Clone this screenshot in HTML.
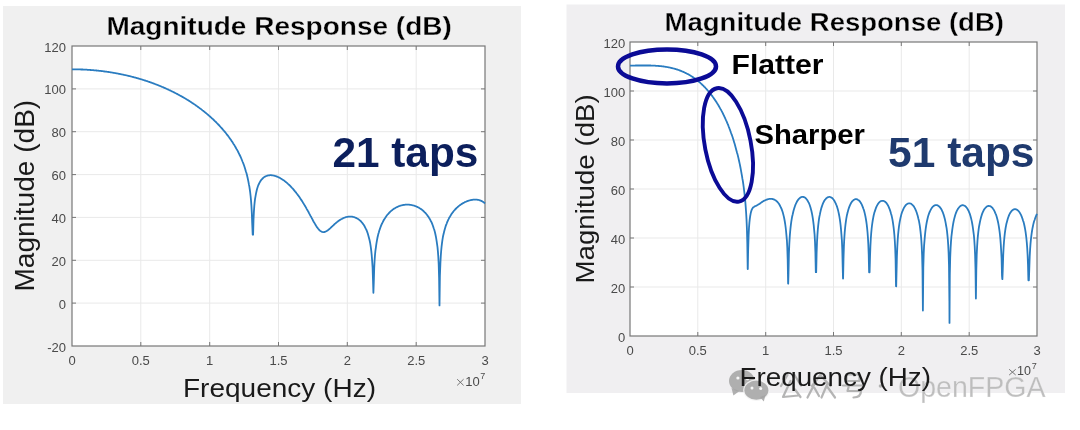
<!DOCTYPE html>
<html><head><meta charset="utf-8"><style>
html,body{margin:0;padding:0;background:#fff;width:1080px;height:430px;overflow:hidden}
svg{display:block;font-family:"Liberation Sans",sans-serif;will-change:transform}
</style></head><body>
<svg width="1080" height="430" viewBox="0 0 1080 430">
<rect x="3" y="6" width="518" height="398" fill="#f0f0f0"/>
<rect x="566.5" y="4.5" width="498.5" height="388.5" fill="#f0eff1"/>
<rect x="72" y="46" width="413" height="300" fill="#fff"/><line x1="140.8" y1="46" x2="140.8" y2="346" stroke="#e9e9e9" stroke-width="1"/><line x1="209.7" y1="46" x2="209.7" y2="346" stroke="#e9e9e9" stroke-width="1"/><line x1="278.5" y1="46" x2="278.5" y2="346" stroke="#e9e9e9" stroke-width="1"/><line x1="347.3" y1="46" x2="347.3" y2="346" stroke="#e9e9e9" stroke-width="1"/><line x1="416.2" y1="46" x2="416.2" y2="346" stroke="#e9e9e9" stroke-width="1"/><line x1="72" y1="303.1" x2="485" y2="303.1" stroke="#e9e9e9" stroke-width="1"/><line x1="72" y1="260.3" x2="485" y2="260.3" stroke="#e9e9e9" stroke-width="1"/><line x1="72" y1="217.4" x2="485" y2="217.4" stroke="#e9e9e9" stroke-width="1"/><line x1="72" y1="174.6" x2="485" y2="174.6" stroke="#e9e9e9" stroke-width="1"/><line x1="72" y1="131.7" x2="485" y2="131.7" stroke="#e9e9e9" stroke-width="1"/><line x1="72" y1="88.9" x2="485" y2="88.9" stroke="#e9e9e9" stroke-width="1"/><line x1="140.8" y1="346" x2="140.8" y2="342" stroke="#777777" stroke-width="1"/><line x1="140.8" y1="46" x2="140.8" y2="50" stroke="#777777" stroke-width="1"/><line x1="209.7" y1="346" x2="209.7" y2="342" stroke="#777777" stroke-width="1"/><line x1="209.7" y1="46" x2="209.7" y2="50" stroke="#777777" stroke-width="1"/><line x1="278.5" y1="346" x2="278.5" y2="342" stroke="#777777" stroke-width="1"/><line x1="278.5" y1="46" x2="278.5" y2="50" stroke="#777777" stroke-width="1"/><line x1="347.3" y1="346" x2="347.3" y2="342" stroke="#777777" stroke-width="1"/><line x1="347.3" y1="46" x2="347.3" y2="50" stroke="#777777" stroke-width="1"/><line x1="416.2" y1="346" x2="416.2" y2="342" stroke="#777777" stroke-width="1"/><line x1="416.2" y1="46" x2="416.2" y2="50" stroke="#777777" stroke-width="1"/><line x1="72" y1="303.1" x2="76" y2="303.1" stroke="#777777" stroke-width="1"/><line x1="485" y1="303.1" x2="481" y2="303.1" stroke="#777777" stroke-width="1"/><line x1="72" y1="260.3" x2="76" y2="260.3" stroke="#777777" stroke-width="1"/><line x1="485" y1="260.3" x2="481" y2="260.3" stroke="#777777" stroke-width="1"/><line x1="72" y1="217.4" x2="76" y2="217.4" stroke="#777777" stroke-width="1"/><line x1="485" y1="217.4" x2="481" y2="217.4" stroke="#777777" stroke-width="1"/><line x1="72" y1="174.6" x2="76" y2="174.6" stroke="#777777" stroke-width="1"/><line x1="485" y1="174.6" x2="481" y2="174.6" stroke="#777777" stroke-width="1"/><line x1="72" y1="131.7" x2="76" y2="131.7" stroke="#777777" stroke-width="1"/><line x1="485" y1="131.7" x2="481" y2="131.7" stroke="#777777" stroke-width="1"/><line x1="72" y1="88.9" x2="76" y2="88.9" stroke="#777777" stroke-width="1"/><line x1="485" y1="88.9" x2="481" y2="88.9" stroke="#777777" stroke-width="1"/><rect x="72" y="46" width="413" height="300" fill="none" stroke="#777777" stroke-width="1.2"/>
<path d="M72.0 69.3L72.4 69.3L72.8 69.3L73.2 69.3L73.7 69.3L74.1 69.3L74.5 69.3L74.9 69.3L75.3 69.3L75.7 69.3L76.1 69.3L76.5 69.3L77.0 69.4L77.4 69.4L77.8 69.4L78.2 69.4L78.6 69.4L79.0 69.4L79.4 69.4L79.9 69.4L80.3 69.4L80.7 69.5L81.1 69.5L81.5 69.5L81.9 69.5L82.3 69.5L82.7 69.5L83.2 69.6L83.6 69.6L84.0 69.6L84.4 69.6L84.8 69.6L85.2 69.7L85.6 69.7L86.1 69.7L86.5 69.7L86.9 69.7L87.3 69.8L87.7 69.8L88.1 69.8L88.5 69.9L88.9 69.9L89.4 69.9L89.8 69.9L90.2 70.0L90.6 70.0L91.0 70.0L91.4 70.1L91.8 70.1L92.3 70.1L92.7 70.2L93.1 70.2L93.5 70.2L93.9 70.3L94.3 70.3L94.7 70.3L95.2 70.4L95.6 70.4L96.0 70.5L96.4 70.5L96.8 70.5L97.2 70.6L97.6 70.6L98.0 70.7L98.5 70.7L98.9 70.8L99.3 70.8L99.7 70.9L100.1 70.9L100.5 70.9L100.9 71.0L101.4 71.0L101.8 71.1L102.2 71.1L102.6 71.2L103.0 71.2L103.4 71.3L103.8 71.4L104.2 71.4L104.7 71.5L105.1 71.5L105.5 71.6L105.9 71.6L106.3 71.7L106.7 71.7L107.1 71.8L107.6 71.9L108.0 71.9L108.4 72.0L108.8 72.0L109.2 72.1L109.6 72.2L110.0 72.2L110.4 72.3L110.9 72.4L111.3 72.4L111.7 72.5L112.1 72.6L112.5 72.6L112.9 72.7L113.3 72.8L113.8 72.8L114.2 72.9L114.6 73.0L115.0 73.1L115.4 73.1L115.8 73.2L116.2 73.3L116.6 73.4L117.1 73.4L117.5 73.5L117.9 73.6L118.3 73.7L118.7 73.8L119.1 73.8L119.5 73.9L120.0 74.0L120.4 74.1L120.8 74.2L121.2 74.3L121.6 74.3L122.0 74.4L122.4 74.5L122.8 74.6L123.3 74.7L123.7 74.8L124.1 74.9L124.5 75.0L124.9 75.1L125.3 75.1L125.7 75.2L126.2 75.3L126.6 75.4L127.0 75.5L127.4 75.6L127.8 75.7L128.2 75.8L128.6 75.9L129.1 76.0L129.5 76.1L129.9 76.2L130.3 76.3L130.7 76.4L131.1 76.5L131.5 76.6L131.9 76.7L132.4 76.8L132.8 76.9L133.2 77.1L133.6 77.2L134.0 77.3L134.4 77.4L134.8 77.5L135.3 77.6L135.7 77.7L136.1 77.8L136.5 77.9L136.9 78.1L137.3 78.2L137.7 78.3L138.1 78.4L138.6 78.5L139.0 78.7L139.4 78.8L139.8 78.9L140.2 79.0L140.6 79.1L141.0 79.3L141.5 79.4L141.9 79.5L142.3 79.6L142.7 79.8L143.1 79.9L143.5 80.0L143.9 80.2L144.3 80.3L144.8 80.4L145.2 80.6L145.6 80.7L146.0 80.8L146.4 81.0L146.8 81.1L147.2 81.2L147.7 81.4L148.1 81.5L148.5 81.7L148.9 81.8L149.3 81.9L149.7 82.1L150.1 82.2L150.5 82.4L151.0 82.5L151.4 82.7L151.8 82.8L152.2 83.0L152.6 83.1L153.0 83.3L153.4 83.4L153.9 83.6L154.3 83.7L154.7 83.9L155.1 84.0L155.5 84.2L155.9 84.4L156.3 84.5L156.7 84.7L157.2 84.8L157.6 85.0L158.0 85.2L158.4 85.3L158.8 85.5L159.2 85.7L159.6 85.8L160.1 86.0L160.5 86.2L160.9 86.3L161.3 86.5L161.7 86.7L162.1 86.9L162.5 87.0L163.0 87.2L163.4 87.4L163.8 87.6L164.2 87.8L164.6 87.9L165.0 88.1L165.4 88.3L165.8 88.5L166.3 88.7L166.7 88.9L167.1 89.0L167.5 89.2L167.9 89.4L168.3 89.6L168.7 89.8L169.2 90.0L169.6 90.2L170.0 90.4L170.4 90.6L170.8 90.8L171.2 91.0L171.6 91.2L172.0 91.4L172.5 91.6L172.9 91.8L173.3 92.0L173.7 92.2L174.1 92.4L174.5 92.6L174.9 92.8L175.4 93.0L175.8 93.3L176.2 93.5L176.6 93.7L177.0 93.9L177.4 94.1L177.8 94.3L178.2 94.6L178.7 94.8L179.1 95.0L179.5 95.2L179.9 95.5L180.3 95.7L180.7 95.9L181.1 96.2L181.6 96.4L182.0 96.6L182.4 96.9L182.8 97.1L183.2 97.3L183.6 97.6L184.0 97.8L184.4 98.0L184.9 98.3L185.3 98.5L185.7 98.8L186.1 99.0L186.5 99.3L186.9 99.5L187.3 99.8L187.8 100.0L188.2 100.3L188.6 100.6L189.0 100.8L189.4 101.1L189.8 101.3L190.2 101.6L190.6 101.9L191.1 102.1L191.5 102.4L191.9 102.7L192.3 103.0L192.7 103.2L193.1 103.5L193.5 103.8L194.0 104.1L194.4 104.3L194.8 104.6L195.2 104.9L195.6 105.2L196.0 105.5L196.4 105.8L196.9 106.1L197.3 106.4L197.7 106.7L198.1 107.0L198.5 107.3L198.9 107.6L199.3 107.9L199.7 108.2L200.2 108.5L200.6 108.8L201.0 109.1L201.4 109.4L201.8 109.7L202.2 110.1L202.6 110.4L203.1 110.7L203.5 111.0L203.9 111.4L204.3 111.7L204.7 112.0L205.1 112.4L205.5 112.7L205.9 113.0L206.4 113.4L206.8 113.7L207.2 114.1L207.6 114.4L208.0 114.8L208.4 115.1L208.8 115.5L209.3 115.9L209.7 116.2L210.1 116.6L210.5 117.0L210.9 117.3L211.3 117.7L211.7 118.1L212.1 118.5L212.6 118.8L213.0 119.2L213.4 119.6L213.8 120.0L214.2 120.4L214.6 120.8L215.0 121.2L215.5 121.6L215.9 122.0L216.3 122.4L216.7 122.8L217.1 123.3L217.5 123.7L217.9 124.1L218.3 124.5L218.8 125.0L219.2 125.4L219.6 125.9L220.0 126.3L220.4 126.8L220.8 127.2L221.2 127.7L221.7 128.1L222.1 128.6L222.5 129.1L222.9 129.6L223.3 130.0L223.7 130.5L224.1 131.0L224.5 131.5L225.0 132.0L225.4 132.5L225.8 133.0L226.2 133.5L226.6 134.1L227.0 134.6L227.4 135.1L227.9 135.7L228.3 136.2L228.7 136.8L229.1 137.3L229.5 137.9L229.9 138.5L230.3 139.1L230.8 139.7L231.2 140.3L231.6 140.9L232.0 141.5L232.4 142.1L232.8 142.7L233.2 143.4L233.6 144.0L234.1 144.7L234.5 145.4L234.9 146.1L235.3 146.8L235.7 147.5L236.1 148.2L236.5 148.9L237.0 149.7L237.4 150.4L237.8 151.2L238.2 152.0L238.6 152.8L239.0 153.6L239.4 154.5L239.8 155.3L240.3 156.2L240.7 157.1L241.1 158.0L241.5 159.0L241.9 160.0L242.3 161.0L242.7 162.0L243.2 163.1L243.6 164.2L244.0 165.3L244.4 166.5L244.8 167.7L245.2 169.0L245.6 170.4L246.0 171.8L246.5 173.3L246.9 174.8L247.3 176.5L247.7 178.2L248.1 180.1L248.5 182.1L248.9 184.4L249.4 186.8L249.8 189.5L250.2 192.5L250.6 196.0L251.0 200.2L251.4 205.4L251.8 212.4L252.2 223.1L252.7 234.7L252.8 234.7L253.1 234.7L253.5 220.0L253.9 211.6L254.3 206.0L254.7 201.8L255.1 198.6L255.6 195.9L256.0 193.6L256.4 191.7L256.8 190.0L257.2 188.5L257.6 187.2L258.0 186.0L258.4 185.0L258.9 184.0L259.3 183.2L259.7 182.4L260.1 181.7L260.5 181.0L260.9 180.4L261.3 179.9L261.8 179.4L262.2 178.9L262.6 178.5L263.0 178.1L263.4 177.7L263.8 177.4L264.2 177.1L264.7 176.8L265.1 176.6L265.5 176.4L265.9 176.2L266.3 176.0L266.7 175.9L267.1 175.7L267.5 175.6L268.0 175.5L268.4 175.4L268.8 175.4L269.2 175.3L269.6 175.3L270.0 175.2L270.4 175.2L270.9 175.2L271.3 175.2L271.7 175.3L272.1 175.3L272.5 175.4L272.9 175.4L273.3 175.5L273.7 175.6L274.2 175.7L274.6 175.8L275.0 175.9L275.4 176.0L275.8 176.2L276.2 176.3L276.6 176.5L277.1 176.6L277.5 176.8L277.9 177.0L278.3 177.2L278.7 177.3L279.1 177.6L279.5 177.8L279.9 178.0L280.4 178.2L280.8 178.5L281.2 178.7L281.6 179.0L282.0 179.2L282.4 179.5L282.8 179.8L283.3 180.0L283.7 180.3L284.1 180.6L284.5 180.9L284.9 181.3L285.3 181.6L285.7 181.9L286.1 182.3L286.6 182.6L287.0 182.9L287.4 183.3L287.8 183.7L288.2 184.1L288.6 184.4L289.0 184.8L289.5 185.2L289.9 185.6L290.3 186.0L290.7 186.5L291.1 186.9L291.5 187.3L291.9 187.8L292.3 188.2L292.8 188.7L293.2 189.1L293.6 189.6L294.0 190.1L294.4 190.6L294.8 191.1L295.2 191.6L295.7 192.1L296.1 192.6L296.5 193.2L296.9 193.7L297.3 194.2L297.7 194.8L298.1 195.4L298.6 195.9L299.0 196.5L299.4 197.1L299.8 197.7L300.2 198.3L300.6 198.9L301.0 199.5L301.4 200.2L301.9 200.8L302.3 201.4L302.7 202.1L303.1 202.8L303.5 203.4L303.9 204.1L304.3 204.8L304.8 205.5L305.2 206.2L305.6 206.9L306.0 207.6L306.4 208.3L306.8 209.1L307.2 209.8L307.6 210.5L308.1 211.3L308.5 212.0L308.9 212.8L309.3 213.6L309.7 214.3L310.1 215.1L310.5 215.9L311.0 216.6L311.4 217.4L311.8 218.2L312.2 218.9L312.6 219.7L313.0 220.5L313.4 221.2L313.8 222.0L314.3 222.7L314.7 223.4L315.1 224.1L315.5 224.8L315.9 225.5L316.3 226.1L316.7 226.8L317.2 227.4L317.6 227.9L318.0 228.5L318.4 229.0L318.8 229.5L319.2 229.9L319.6 230.3L320.0 230.7L320.5 231.0L320.9 231.3L321.3 231.5L321.7 231.7L322.1 231.9L322.5 232.0L322.9 232.1L323.4 232.1L323.8 232.1L324.2 232.0L324.6 232.0L325.0 231.8L325.4 231.7L325.8 231.5L326.2 231.3L326.7 231.0L327.1 230.8L327.5 230.5L327.9 230.2L328.3 229.9L328.7 229.5L329.1 229.2L329.6 228.8L330.0 228.4L330.4 228.1L330.8 227.7L331.2 227.3L331.6 226.9L332.0 226.5L332.5 226.1L332.9 225.7L333.3 225.4L333.7 225.0L334.1 224.6L334.5 224.2L334.9 223.8L335.3 223.5L335.8 223.1L336.2 222.8L336.6 222.4L337.0 222.1L337.4 221.8L337.8 221.5L338.2 221.1L338.7 220.8L339.1 220.6L339.5 220.3L339.9 220.0L340.3 219.7L340.7 219.5L341.1 219.2L341.5 219.0L342.0 218.8L342.4 218.6L342.8 218.4L343.2 218.2L343.6 218.0L344.0 217.8L344.4 217.7L344.9 217.5L345.3 217.4L345.7 217.2L346.1 217.1L346.5 217.0L346.9 216.9L347.3 216.8L347.7 216.8L348.2 216.7L348.6 216.7L349.0 216.6L349.4 216.6L349.8 216.6L350.2 216.6L350.6 216.6L351.1 216.6L351.5 216.6L351.9 216.7L352.3 216.7L352.7 216.8L353.1 216.9L353.5 217.0L353.9 217.1L354.4 217.2L354.8 217.4L355.2 217.5L355.6 217.7L356.0 217.9L356.4 218.1L356.8 218.3L357.3 218.5L357.7 218.8L358.1 219.0L358.5 219.3L358.9 219.6L359.3 219.9L359.7 220.3L360.1 220.6L360.6 221.0L361.0 221.4L361.4 221.9L361.8 222.3L362.2 222.8L362.6 223.4L363.0 223.9L363.5 224.5L363.9 225.1L364.3 225.8L364.7 226.5L365.1 227.3L365.5 228.1L365.9 228.9L366.4 229.8L366.8 230.8L367.2 231.9L367.6 233.0L368.0 234.3L368.4 235.7L368.8 237.2L369.2 238.8L369.7 240.7L370.1 242.7L370.5 245.1L370.9 247.8L371.3 251.1L371.7 255.1L372.1 260.3L372.6 267.6L373.0 280.0L373.4 292.8L373.4 292.8L373.8 281.8L374.2 268.3L374.6 260.5L375.0 255.0L375.4 250.8L375.9 247.3L376.3 244.4L376.7 241.8L377.1 239.6L377.5 237.5L377.9 235.7L378.3 234.1L378.8 232.5L379.2 231.1L379.6 229.8L380.0 228.6L380.4 227.5L380.8 226.4L381.2 225.4L381.6 224.4L382.1 223.5L382.5 222.6L382.9 221.8L383.3 221.0L383.7 220.3L384.1 219.5L384.5 218.9L385.0 218.2L385.4 217.6L385.8 217.0L386.2 216.4L386.6 215.8L387.0 215.3L387.4 214.8L387.8 214.3L388.3 213.8L388.7 213.4L389.1 212.9L389.5 212.5L389.9 212.1L390.3 211.7L390.7 211.3L391.2 210.9L391.6 210.6L392.0 210.3L392.4 209.9L392.8 209.6L393.2 209.3L393.6 209.0L394.0 208.7L394.5 208.5L394.9 208.2L395.3 208.0L395.7 207.7L396.1 207.5L396.5 207.3L396.9 207.1L397.4 206.9L397.8 206.7L398.2 206.5L398.6 206.3L399.0 206.2L399.4 206.0L399.8 205.9L400.3 205.7L400.7 205.6L401.1 205.5L401.5 205.4L401.9 205.3L402.3 205.2L402.7 205.1L403.1 205.0L403.6 204.9L404.0 204.9L404.4 204.8L404.8 204.8L405.2 204.7L405.6 204.7L406.0 204.7L406.5 204.7L406.9 204.6L407.3 204.6L407.7 204.6L408.1 204.7L408.5 204.7L408.9 204.7L409.3 204.7L409.8 204.8L410.2 204.8L410.6 204.9L411.0 204.9L411.4 205.0L411.8 205.1L412.2 205.2L412.7 205.3L413.1 205.4L413.5 205.5L413.9 205.6L414.3 205.7L414.7 205.9L415.1 206.0L415.5 206.2L416.0 206.3L416.4 206.5L416.8 206.7L417.2 206.9L417.6 207.1L418.0 207.3L418.4 207.5L418.9 207.7L419.3 208.0L419.7 208.2L420.1 208.5L420.5 208.7L420.9 209.0L421.3 209.3L421.7 209.6L422.2 209.9L422.6 210.3L423.0 210.6L423.4 211.0L423.8 211.4L424.2 211.8L424.6 212.2L425.1 212.6L425.5 213.0L425.9 213.5L426.3 214.0L426.7 214.5L427.1 215.0L427.5 215.6L427.9 216.1L428.4 216.7L428.8 217.4L429.2 218.0L429.6 218.7L430.0 219.4L430.4 220.2L430.8 221.0L431.3 221.8L431.7 222.7L432.1 223.7L432.5 224.7L432.9 225.8L433.3 226.9L433.7 228.2L434.2 229.5L434.6 230.9L435.0 232.5L435.4 234.3L435.8 236.2L436.2 238.4L436.6 240.8L437.0 243.7L437.5 247.1L437.9 251.3L438.3 256.7L438.7 264.4L439.1 277.9L439.5 305.4L439.5 305.4L439.9 275.6L440.4 263.2L440.8 255.8L441.2 250.5L441.6 246.4L442.0 243.1L442.4 240.2L442.8 237.7L443.2 235.5L443.7 233.6L444.1 231.8L444.5 230.2L444.9 228.7L445.3 227.4L445.7 226.1L446.1 224.9L446.6 223.8L447.0 222.7L447.4 221.7L447.8 220.8L448.2 219.9L448.6 219.1L449.0 218.2L449.4 217.5L449.9 216.7L450.3 216.0L450.7 215.4L451.1 214.7L451.5 214.1L451.9 213.5L452.3 212.9L452.8 212.4L453.2 211.8L453.6 211.3L454.0 210.8L454.4 210.3L454.8 209.9L455.2 209.4L455.6 209.0L456.1 208.5L456.5 208.1L456.9 207.7L457.3 207.4L457.7 207.0L458.1 206.6L458.5 206.3L459.0 205.9L459.4 205.6L459.8 205.3L460.2 205.0L460.6 204.7L461.0 204.4L461.4 204.1L461.8 203.9L462.3 203.6L462.7 203.4L463.1 203.1L463.5 202.9L463.9 202.7L464.3 202.5L464.7 202.2L465.2 202.0L465.6 201.9L466.0 201.7L466.4 201.5L466.8 201.3L467.2 201.2L467.6 201.0L468.1 200.9L468.5 200.7L468.9 200.6L469.3 200.5L469.7 200.4L470.1 200.2L470.5 200.1L470.9 200.1L471.4 200.0L471.8 199.9L472.2 199.8L472.6 199.8L473.0 199.7L473.4 199.7L473.8 199.6L474.3 199.6L474.7 199.6L475.1 199.6L475.5 199.6L475.9 199.6L476.3 199.7L476.7 199.7L477.1 199.7L477.6 199.8L478.0 199.9L478.4 199.9L478.8 200.0L479.2 200.1L479.6 200.3L480.0 200.4L480.5 200.6L480.9 200.7L481.3 200.9L481.7 201.1L482.1 201.3L482.5 201.6L482.9 201.8L483.3 202.1L483.8 202.4L484.2 202.7L484.6 203.1L485.0 203.5" fill="none" stroke="#2a7cc0" stroke-width="1.8" stroke-linejoin="round"/>
<g fill="#4a4a4a"><text x="72.0" y="365.2" text-anchor="middle" font-size="13">0</text><text x="140.8" y="365.2" text-anchor="middle" font-size="13">0.5</text><text x="209.7" y="365.2" text-anchor="middle" font-size="13">1</text><text x="278.5" y="365.2" text-anchor="middle" font-size="13">1.5</text><text x="347.3" y="365.2" text-anchor="middle" font-size="13">2</text><text x="416.2" y="365.2" text-anchor="middle" font-size="13">2.5</text><text x="485.0" y="365.2" text-anchor="middle" font-size="13">3</text><text x="66" y="351.5" text-anchor="end" font-size="13">-20</text><text x="66" y="308.6" text-anchor="end" font-size="13">0</text><text x="66" y="265.8" text-anchor="end" font-size="13">20</text><text x="66" y="222.9" text-anchor="end" font-size="13">40</text><text x="66" y="180.1" text-anchor="end" font-size="13">60</text><text x="66" y="137.2" text-anchor="end" font-size="13">80</text><text x="66" y="94.4" text-anchor="end" font-size="13">100</text><text x="66" y="51.5" text-anchor="end" font-size="13">120</text></g>
<text x="279.15" y="35" text-anchor="middle" font-size="26" font-weight="bold" fill="#000" stroke="#f0f0f0" stroke-width="0.3" textLength="345.4" lengthAdjust="spacingAndGlyphs">Magnitude Response (dB)</text>
<text x="279.5" y="396.7" text-anchor="middle" font-size="26.6" fill="#1a1a1a" textLength="193" lengthAdjust="spacingAndGlyphs">Frequency (Hz)</text>
<text transform="translate(34.2,195.7) rotate(-90)" text-anchor="middle" font-size="26.9" fill="#1a1a1a" textLength="191.8" lengthAdjust="spacingAndGlyphs">Magnitude (dB)</text>
<path d="M457.2 379.2 L463.6 385.4 M463.6 379.2 L457.2 385.4" stroke="#666" stroke-width="0.9" fill="none"/><text x="465.3" y="385.8" font-size="13" fill="#4a4a4a">10</text><text x="480.2" y="378.5" font-size="9" fill="#4a4a4a">7</text>
<text x="405.35" y="167.2" text-anchor="middle" font-size="43" font-weight="bold" fill="#0c1f5c" textLength="145.9" lengthAdjust="spacingAndGlyphs">21 taps</text>

<rect x="630" y="42" width="407" height="294" fill="#fff"/><line x1="697.8" y1="42" x2="697.8" y2="336" stroke="#e9e9e9" stroke-width="1"/><line x1="765.7" y1="42" x2="765.7" y2="336" stroke="#e9e9e9" stroke-width="1"/><line x1="833.5" y1="42" x2="833.5" y2="336" stroke="#e9e9e9" stroke-width="1"/><line x1="901.3" y1="42" x2="901.3" y2="336" stroke="#e9e9e9" stroke-width="1"/><line x1="969.2" y1="42" x2="969.2" y2="336" stroke="#e9e9e9" stroke-width="1"/><line x1="630" y1="287.0" x2="1037" y2="287.0" stroke="#e9e9e9" stroke-width="1"/><line x1="630" y1="238.0" x2="1037" y2="238.0" stroke="#e9e9e9" stroke-width="1"/><line x1="630" y1="189.0" x2="1037" y2="189.0" stroke="#e9e9e9" stroke-width="1"/><line x1="630" y1="140.0" x2="1037" y2="140.0" stroke="#e9e9e9" stroke-width="1"/><line x1="630" y1="91.0" x2="1037" y2="91.0" stroke="#e9e9e9" stroke-width="1"/><line x1="697.8" y1="336" x2="697.8" y2="332" stroke="#777777" stroke-width="1"/><line x1="697.8" y1="42" x2="697.8" y2="46" stroke="#777777" stroke-width="1"/><line x1="765.7" y1="336" x2="765.7" y2="332" stroke="#777777" stroke-width="1"/><line x1="765.7" y1="42" x2="765.7" y2="46" stroke="#777777" stroke-width="1"/><line x1="833.5" y1="336" x2="833.5" y2="332" stroke="#777777" stroke-width="1"/><line x1="833.5" y1="42" x2="833.5" y2="46" stroke="#777777" stroke-width="1"/><line x1="901.3" y1="336" x2="901.3" y2="332" stroke="#777777" stroke-width="1"/><line x1="901.3" y1="42" x2="901.3" y2="46" stroke="#777777" stroke-width="1"/><line x1="969.2" y1="336" x2="969.2" y2="332" stroke="#777777" stroke-width="1"/><line x1="969.2" y1="42" x2="969.2" y2="46" stroke="#777777" stroke-width="1"/><line x1="630" y1="287.0" x2="634" y2="287.0" stroke="#777777" stroke-width="1"/><line x1="1037" y1="287.0" x2="1033" y2="287.0" stroke="#777777" stroke-width="1"/><line x1="630" y1="238.0" x2="634" y2="238.0" stroke="#777777" stroke-width="1"/><line x1="1037" y1="238.0" x2="1033" y2="238.0" stroke="#777777" stroke-width="1"/><line x1="630" y1="189.0" x2="634" y2="189.0" stroke="#777777" stroke-width="1"/><line x1="1037" y1="189.0" x2="1033" y2="189.0" stroke="#777777" stroke-width="1"/><line x1="630" y1="140.0" x2="634" y2="140.0" stroke="#777777" stroke-width="1"/><line x1="1037" y1="140.0" x2="1033" y2="140.0" stroke="#777777" stroke-width="1"/><line x1="630" y1="91.0" x2="634" y2="91.0" stroke="#777777" stroke-width="1"/><line x1="1037" y1="91.0" x2="1033" y2="91.0" stroke="#777777" stroke-width="1"/><rect x="630" y="42" width="407" height="294" fill="none" stroke="#777777" stroke-width="1.2"/>
<path d="M630.0 65.6L630.4 65.6L630.8 65.6L631.2 65.6L631.6 65.6L632.0 65.6L632.4 65.6L632.9 65.6L633.3 65.6L633.7 65.6L634.1 65.6L634.5 65.6L634.9 65.6L635.3 65.5L635.7 65.5L636.1 65.5L636.5 65.5L636.9 65.5L637.3 65.5L637.7 65.5L638.1 65.5L638.6 65.5L639.0 65.5L639.4 65.5L639.8 65.5L640.2 65.5L640.6 65.5L641.0 65.5L641.4 65.5L641.8 65.5L642.2 65.5L642.6 65.5L643.0 65.5L643.4 65.5L643.9 65.5L644.3 65.5L644.7 65.5L645.1 65.5L645.5 65.5L645.9 65.5L646.3 65.5L646.7 65.5L647.1 65.5L647.5 65.5L647.9 65.5L648.3 65.5L648.7 65.5L649.1 65.5L649.6 65.5L650.0 65.5L650.4 65.5L650.8 65.5L651.2 65.6L651.6 65.6L652.0 65.6L652.4 65.6L652.8 65.6L653.2 65.6L653.6 65.7L654.0 65.7L654.4 65.7L654.9 65.7L655.3 65.7L655.7 65.8L656.1 65.8L656.5 65.8L656.9 65.8L657.3 65.9L657.7 65.9L658.1 65.9L658.5 66.0L658.9 66.0L659.3 66.0L659.7 66.1L660.1 66.1L660.6 66.2L661.0 66.2L661.4 66.2L661.8 66.3L662.2 66.3L662.6 66.4L663.0 66.4L663.4 66.5L663.8 66.5L664.2 66.6L664.6 66.7L665.0 66.7L665.4 66.8L665.9 66.9L666.3 66.9L666.7 67.0L667.1 67.1L667.5 67.1L667.9 67.2L668.3 67.3L668.7 67.4L669.1 67.4L669.5 67.5L669.9 67.6L670.3 67.7L670.7 67.8L671.1 67.9L671.6 68.0L672.0 68.1L672.4 68.2L672.8 68.3L673.2 68.4L673.6 68.5L674.0 68.6L674.4 68.7L674.8 68.8L675.2 68.9L675.6 69.1L676.0 69.2L676.4 69.3L676.9 69.4L677.3 69.6L677.7 69.7L678.1 69.8L678.5 70.0L678.9 70.1L679.3 70.3L679.7 70.4L680.1 70.6L680.5 70.7L680.9 70.9L681.3 71.1L681.7 71.2L682.1 71.4L682.6 71.6L683.0 71.7L683.4 71.9L683.8 72.1L684.2 72.3L684.6 72.5L685.0 72.7L685.4 72.9L685.8 73.1L686.2 73.3L686.6 73.5L687.0 73.7L687.4 73.9L687.9 74.1L688.3 74.3L688.7 74.6L689.1 74.8L689.5 75.0L689.9 75.3L690.3 75.5L690.7 75.8L691.1 76.0L691.5 76.3L691.9 76.5L692.3 76.8L692.7 77.1L693.1 77.3L693.6 77.6L694.0 77.9L694.4 78.2L694.8 78.5L695.2 78.8L695.6 79.1L696.0 79.4L696.4 79.7L696.8 80.0L697.2 80.3L697.6 80.7L698.0 81.0L698.4 81.3L698.9 81.7L699.3 82.0L699.7 82.3L700.1 82.7L700.5 83.1L700.9 83.4L701.3 83.8L701.7 84.2L702.1 84.6L702.5 85.0L702.9 85.3L703.3 85.7L703.7 86.1L704.1 86.6L704.6 87.0L705.0 87.4L705.4 87.8L705.8 88.3L706.2 88.7L706.6 89.2L707.0 89.6L707.4 90.1L707.8 90.5L708.2 91.0L708.6 91.5L709.0 92.0L709.4 92.5L709.9 93.0L710.3 93.5L710.7 94.0L711.1 94.5L711.5 95.1L711.9 95.6L712.3 96.1L712.7 96.7L713.1 97.2L713.5 97.8L713.9 98.4L714.3 99.0L714.7 99.6L715.1 100.2L715.6 100.8L716.0 101.4L716.4 102.0L716.8 102.7L717.2 103.3L717.6 104.0L718.0 104.6L718.4 105.3L718.8 106.0L719.2 106.7L719.6 107.4L720.0 108.1L720.4 108.9L720.9 109.6L721.3 110.4L721.7 111.1L722.1 111.9L722.5 112.7L722.9 113.5L723.3 114.3L723.7 115.1L724.1 116.0L724.5 116.8L724.9 117.7L725.3 118.6L725.7 119.5L726.1 120.4L726.6 121.4L727.0 122.3L727.4 123.3L727.8 124.2L728.2 125.2L728.6 126.3L729.0 127.3L729.4 128.4L729.8 129.4L730.2 130.5L730.6 131.6L731.0 132.8L731.4 133.9L731.9 135.1L732.3 136.3L732.7 137.5L733.1 138.8L733.5 140.1L733.9 141.4L734.3 142.7L734.7 144.1L735.1 145.5L735.5 146.9L735.9 148.4L736.3 149.9L736.7 151.4L737.1 153.0L737.6 154.6L738.0 156.2L738.4 157.9L738.8 159.7L739.2 161.5L739.6 163.4L740.0 165.3L740.4 167.3L740.8 169.4L741.2 171.6L741.6 173.9L742.0 176.2L742.4 178.7L742.9 181.3L743.3 184.1L743.7 187.1L744.1 190.3L744.5 193.7L744.9 197.5L745.3 201.7L745.7 206.6L746.1 212.2L746.5 219.1L746.9 228.3L747.3 242.8L747.7 269.0L747.8 269.0L748.1 251.2L748.6 235.8L749.0 227.8L749.4 222.6L749.8 218.8L750.2 216.0L750.6 213.8L751.0 212.1L751.4 210.7L751.8 209.7L752.2 208.8L752.6 208.2L753.0 207.6L753.4 207.2L753.9 206.9L754.3 206.6L754.7 206.4L755.1 206.2L755.5 206.0L755.9 205.9L756.3 205.7L756.7 205.5L757.1 205.2L757.5 205.0L757.9 204.8L758.3 204.5L758.7 204.3L759.1 204.0L759.6 203.8L760.0 203.5L760.4 203.2L760.8 202.9L761.2 202.6L761.6 202.3L762.0 202.1L762.4 201.8L762.8 201.5L763.2 201.3L763.6 201.1L764.0 200.8L764.4 200.6L764.9 200.4L765.3 200.2L765.7 200.0L766.1 199.9L766.5 199.7L766.9 199.6L767.3 199.4L767.7 199.3L768.1 199.2L768.5 199.1L768.9 199.0L769.3 198.9L769.7 198.9L770.1 198.9L770.6 198.8L771.0 198.8L771.4 198.9L771.8 198.9L772.2 199.0L772.6 199.0L773.0 199.1L773.4 199.3L773.8 199.4L774.2 199.6L774.6 199.8L775.0 200.0L775.4 200.3L775.9 200.5L776.3 200.9L776.7 201.2L777.1 201.6L777.5 202.0L777.9 202.5L778.3 203.0L778.7 203.5L779.1 204.1L779.5 204.8L779.9 205.5L780.3 206.3L780.7 207.1L781.1 208.0L781.6 209.0L782.0 210.1L782.4 211.3L782.8 212.6L783.2 214.0L783.6 215.6L784.0 217.3L784.4 219.3L784.8 221.5L785.2 224.0L785.6 227.0L786.0 230.5L786.4 234.8L786.9 240.3L787.3 247.8L787.7 259.8L788.1 283.6L788.2 283.6L788.5 273.2L788.9 254.1L789.3 244.1L789.7 237.4L790.1 232.2L790.5 228.1L790.9 224.6L791.3 221.7L791.7 219.1L792.1 216.8L792.6 214.8L793.0 213.0L793.4 211.3L793.8 209.8L794.2 208.4L794.6 207.2L795.0 206.0L795.4 204.9L795.8 204.0L796.2 203.1L796.6 202.3L797.0 201.5L797.4 200.8L797.9 200.2L798.3 199.6L798.7 199.1L799.1 198.7L799.5 198.3L799.9 197.9L800.3 197.6L800.7 197.4L801.1 197.2L801.5 197.0L801.9 196.9L802.3 196.9L802.7 196.8L803.1 196.9L803.6 197.0L804.0 197.1L804.4 197.3L804.8 197.5L805.2 197.8L805.6 198.1L806.0 198.5L806.4 199.0L806.8 199.5L807.2 200.0L807.6 200.7L808.0 201.4L808.4 202.2L808.9 203.0L809.3 204.0L809.7 205.0L810.1 206.2L810.5 207.5L810.9 208.9L811.3 210.4L811.7 212.2L812.1 214.1L812.5 216.3L812.9 218.9L813.3 221.8L813.7 225.2L814.1 229.3L814.6 234.6L815.0 241.6L815.4 252.2L815.8 272.2L816.0 272.2L816.2 272.2L816.6 253.4L817.0 242.3L817.4 235.1L817.8 229.8L818.2 225.6L818.6 222.1L819.0 219.1L819.4 216.6L819.9 214.4L820.3 212.4L820.7 210.6L821.1 209.1L821.5 207.6L821.9 206.4L822.3 205.2L822.7 204.1L823.1 203.2L823.5 202.3L823.9 201.5L824.3 200.8L824.7 200.2L825.1 199.6L825.6 199.1L826.0 198.6L826.4 198.2L826.8 197.9L827.2 197.6L827.6 197.4L828.0 197.2L828.4 197.1L828.8 197.0L829.2 196.9L829.6 196.9L830.0 197.0L830.4 197.1L830.9 197.3L831.3 197.5L831.7 197.7L832.1 198.0L832.5 198.4L832.9 198.8L833.3 199.3L833.7 199.8L834.1 200.4L834.5 201.0L834.9 201.8L835.3 202.6L835.7 203.4L836.1 204.4L836.6 205.5L837.0 206.6L837.4 207.9L837.8 209.3L838.2 210.9L838.6 212.6L839.0 214.5L839.4 216.7L839.8 219.1L840.2 221.9L840.6 225.2L841.0 229.2L841.4 234.1L841.9 240.6L842.3 249.9L842.7 266.9L843.0 278.5L843.1 278.5L843.5 259.1L843.9 246.1L844.3 238.2L844.7 232.4L845.1 228.0L845.5 224.4L845.9 221.3L846.3 218.7L846.7 216.4L847.1 214.4L847.6 212.6L848.0 211.0L848.4 209.6L848.8 208.3L849.2 207.1L849.6 206.1L850.0 205.1L850.4 204.3L850.8 203.5L851.2 202.8L851.6 202.2L852.0 201.6L852.4 201.1L852.9 200.7L853.3 200.3L853.7 200.0L854.1 199.7L854.5 199.5L854.9 199.3L855.3 199.2L855.7 199.2L856.1 199.2L856.5 199.2L856.9 199.3L857.3 199.4L857.7 199.6L858.1 199.9L858.6 200.2L859.0 200.5L859.4 200.9L859.8 201.4L860.2 201.9L860.6 202.5L861.0 203.2L861.4 203.9L861.8 204.7L862.2 205.6L862.6 206.6L863.0 207.6L863.4 208.8L863.9 210.1L864.3 211.5L864.7 213.1L865.1 214.9L865.5 216.8L865.9 219.0L866.3 221.5L866.7 224.4L867.1 227.9L867.5 232.0L867.9 237.1L868.3 244.0L868.7 254.2L869.1 272.3L869.4 272.3L869.6 272.3L870.0 257.6L870.4 246.1L870.8 238.7L871.2 233.3L871.6 229.0L872.0 225.5L872.4 222.6L872.8 220.0L873.2 217.8L873.6 215.8L874.0 214.1L874.4 212.5L874.9 211.1L875.3 209.9L875.7 208.7L876.1 207.7L876.5 206.7L876.9 205.9L877.3 205.1L877.7 204.4L878.1 203.8L878.5 203.2L878.9 202.7L879.3 202.3L879.7 201.9L880.1 201.6L880.6 201.3L881.0 201.1L881.4 201.0L881.8 200.9L882.2 200.8L882.6 200.8L883.0 200.8L883.4 200.9L883.8 201.0L884.2 201.2L884.6 201.4L885.0 201.7L885.4 202.1L885.9 202.4L886.3 202.9L886.7 203.4L887.1 204.0L887.5 204.6L887.9 205.3L888.3 206.0L888.7 206.9L889.1 207.8L889.5 208.8L889.9 209.9L890.3 211.1L890.7 212.5L891.1 214.0L891.6 215.6L892.0 217.4L892.4 219.4L892.8 221.7L893.2 224.3L893.6 227.3L894.0 230.9L894.4 235.2L894.8 240.7L895.2 248.1L895.6 259.6L896.0 286.2L896.2 286.3L896.4 277.7L896.9 256.8L897.3 246.6L897.7 239.7L898.1 234.6L898.5 230.6L898.9 227.2L899.3 224.4L899.7 221.9L900.1 219.8L900.5 217.9L900.9 216.2L901.3 214.6L901.7 213.3L902.1 212.0L902.6 210.9L903.0 209.9L903.4 209.0L903.8 208.2L904.2 207.4L904.6 206.8L905.0 206.2L905.4 205.6L905.8 205.1L906.2 204.7L906.6 204.4L907.0 204.1L907.4 203.8L907.9 203.6L908.3 203.5L908.7 203.4L909.1 203.3L909.5 203.3L909.9 203.4L910.3 203.5L910.7 203.6L911.1 203.8L911.5 204.1L911.9 204.4L912.3 204.8L912.7 205.2L913.1 205.6L913.6 206.1L914.0 206.7L914.4 207.4L914.8 208.1L915.2 208.9L915.6 209.8L916.0 210.7L916.4 211.8L916.8 212.9L917.2 214.2L917.6 215.6L918.0 217.1L918.4 218.8L918.9 220.7L919.3 222.8L919.7 225.2L920.1 228.0L920.5 231.3L920.9 235.1L921.3 239.9L921.7 246.1L922.1 255.0L922.5 270.4L922.9 310.6L922.9 310.6L923.3 267.8L923.7 253.7L924.1 245.4L924.6 239.4L925.0 234.9L925.4 231.1L925.8 228.0L926.2 225.4L926.6 223.0L927.0 221.0L927.4 219.2L927.8 217.5L928.2 216.1L928.6 214.8L929.0 213.6L929.4 212.5L929.9 211.5L930.3 210.6L930.7 209.8L931.1 209.1L931.5 208.4L931.9 207.8L932.3 207.3L932.7 206.8L933.1 206.4L933.5 206.1L933.9 205.8L934.3 205.6L934.7 205.4L935.1 205.2L935.6 205.1L936.0 205.1L936.4 205.1L936.8 205.1L937.2 205.2L937.6 205.4L938.0 205.6L938.4 205.9L938.8 206.2L939.2 206.5L939.6 206.9L940.0 207.4L940.4 207.9L940.9 208.5L941.3 209.2L941.7 209.9L942.1 210.8L942.5 211.7L942.9 212.6L943.3 213.7L943.7 214.9L944.1 216.2L944.5 217.7L944.9 219.3L945.3 221.1L945.7 223.2L946.1 225.5L946.6 228.1L947.0 231.1L947.4 234.8L947.8 239.2L948.2 244.9L948.6 252.7L949.0 265.4L949.4 301.3L949.5 322.9L949.8 275.2L950.2 257.6L950.6 248.1L951.0 241.6L951.4 236.7L951.9 232.7L952.3 229.4L952.7 226.6L953.1 224.1L953.5 222.0L953.9 220.1L954.3 218.4L954.7 216.9L955.1 215.5L955.5 214.2L955.9 213.1L956.3 212.1L956.7 211.1L957.1 210.3L957.6 209.5L958.0 208.8L958.4 208.2L958.8 207.7L959.2 207.2L959.6 206.7L960.0 206.4L960.4 206.0L960.8 205.8L961.2 205.6L961.6 205.4L962.0 205.3L962.4 205.2L962.9 205.2L963.3 205.3L963.7 205.4L964.1 205.5L964.5 205.7L964.9 205.9L965.3 206.2L965.7 206.6L966.1 207.0L966.5 207.5L966.9 208.0L967.3 208.6L967.7 209.3L968.1 210.0L968.6 210.9L969.0 211.8L969.4 212.8L969.8 213.9L970.2 215.1L970.6 216.4L971.0 217.9L971.4 219.6L971.8 221.4L972.2 223.5L972.6 225.9L973.0 228.6L973.4 231.7L973.9 235.5L974.3 240.2L974.7 246.2L975.1 254.7L975.5 269.1L975.9 298.5L975.9 298.5L976.3 270.3L976.7 255.3L977.1 246.6L977.5 240.5L977.9 235.8L978.3 232.1L978.7 228.9L979.1 226.2L979.6 223.8L980.0 221.7L980.4 219.9L980.8 218.3L981.2 216.8L981.6 215.4L982.0 214.2L982.4 213.2L982.8 212.2L983.2 211.3L983.6 210.5L984.0 209.7L984.4 209.1L984.9 208.5L985.3 208.0L985.7 207.5L986.1 207.2L986.5 206.8L986.9 206.5L987.3 206.3L987.7 206.1L988.1 206.0L988.5 206.0L988.9 205.9L989.3 206.0L989.7 206.1L990.1 206.2L990.6 206.4L991.0 206.6L991.4 206.9L991.8 207.3L992.2 207.7L992.6 208.1L993.0 208.7L993.4 209.2L993.8 209.9L994.2 210.6L994.6 211.4L995.0 212.3L995.4 213.3L995.9 214.3L996.3 215.5L996.7 216.8L997.1 218.2L997.5 219.8L997.9 221.5L998.3 223.4L998.7 225.6L999.1 228.1L999.5 230.9L999.9 234.2L1000.3 238.2L1000.7 243.1L1001.1 249.5L1001.6 258.8L1002.0 275.7L1002.3 279.2L1002.4 279.2L1002.8 268.4L1003.2 255.4L1003.6 247.4L1004.0 241.7L1004.4 237.3L1004.8 233.7L1005.2 230.6L1005.6 228.0L1006.0 225.8L1006.4 223.8L1006.9 222.0L1007.3 220.5L1007.7 219.1L1008.1 217.8L1008.5 216.7L1008.9 215.7L1009.3 214.7L1009.7 213.9L1010.1 213.1L1010.5 212.5L1010.9 211.9L1011.3 211.3L1011.7 210.9L1012.1 210.5L1012.6 210.1L1013.0 209.8L1013.4 209.6L1013.8 209.4L1014.2 209.3L1014.6 209.2L1015.0 209.2L1015.4 209.2L1015.8 209.3L1016.2 209.4L1016.6 209.6L1017.0 209.8L1017.4 210.1L1017.9 210.4L1018.3 210.8L1018.7 211.3L1019.1 211.8L1019.5 212.3L1019.9 212.9L1020.3 213.6L1020.7 214.4L1021.1 215.2L1021.5 216.1L1021.9 217.1L1022.3 218.2L1022.7 219.4L1023.1 220.7L1023.6 222.1L1024.0 223.7L1024.4 225.5L1024.8 227.5L1025.2 229.7L1025.6 232.2L1026.0 235.1L1026.4 238.5L1026.8 242.6L1027.2 247.8L1027.6 254.6L1028.0 264.8L1028.4 280.3L1028.7 280.3L1028.9 280.3L1029.3 268.4L1029.7 256.8L1030.1 249.4L1030.5 243.9L1030.9 239.6L1031.3 236.1L1031.7 233.1L1032.1 230.5L1032.5 228.2L1032.9 226.2L1033.3 224.4L1033.7 222.8L1034.1 221.3L1034.6 220.0L1035.0 218.7L1035.4 217.6L1035.8 216.6L1036.2 215.6L1036.6 214.7L1037.0 213.9" fill="none" stroke="#2a7cc0" stroke-width="1.8" stroke-linejoin="round"/>
<g fill="#4a4a4a"><text x="630.0" y="355" text-anchor="middle" font-size="13">0</text><text x="697.8" y="355" text-anchor="middle" font-size="13">0.5</text><text x="765.7" y="355" text-anchor="middle" font-size="13">1</text><text x="833.5" y="355" text-anchor="middle" font-size="13">1.5</text><text x="901.3" y="355" text-anchor="middle" font-size="13">2</text><text x="969.2" y="355" text-anchor="middle" font-size="13">2.5</text><text x="1037.0" y="355" text-anchor="middle" font-size="13">3</text><text x="625.3" y="341.5" text-anchor="end" font-size="13">0</text><text x="625.3" y="292.5" text-anchor="end" font-size="13">20</text><text x="625.3" y="243.5" text-anchor="end" font-size="13">40</text><text x="625.3" y="194.5" text-anchor="end" font-size="13">60</text><text x="625.3" y="145.5" text-anchor="end" font-size="13">80</text><text x="625.3" y="96.5" text-anchor="end" font-size="13">100</text><text x="625.3" y="47.5" text-anchor="end" font-size="13">120</text></g>
<text x="834.25" y="30.6" text-anchor="middle" font-size="25" font-weight="bold" fill="#000" stroke="#f0eff1" stroke-width="0.3" textLength="339.4" lengthAdjust="spacingAndGlyphs">Magnitude Response (dB)</text>
<g fill="#a3a3a3" fill-opacity="0.85">
<ellipse cx="741.8" cy="381" rx="12.8" ry="11"/>
<path d="M731.5 388 L733.4 395.5 L739.5 391 Z"/>
</g>
<g fill="#fff" fill-opacity="0.9"><circle cx="737.9" cy="378" r="1.6"/><circle cx="747.5" cy="378.7" r="1.6"/></g>
<ellipse cx="756.4" cy="390.2" rx="13.2" ry="10.8" fill="#f4f4f4" fill-opacity="0.9"/>
<g fill="#a3a3a3" fill-opacity="0.85">
<ellipse cx="756.4" cy="390.2" rx="12" ry="9.6"/>
<path d="M760 397 L763.8 401.5 L765.5 395 Z"/>
</g>
<g fill="#fff" fill-opacity="0.9"><circle cx="752" cy="388" r="1.5"/><circle cx="760.7" cy="388.5" r="1.5"/></g>
<g fill="none" stroke="#a8a8a8" stroke-opacity="0.85" stroke-width="2.2" stroke-linecap="round" stroke-linejoin="round">
<path d="M787.5 375 L781 386 M794.5 375 L801 385.5 M790.5 381 L783 397 L798.5 395.5 M795 389.5 L800.5 397"/>
<path d="M821 374 L812 386 M821 376 L830.5 386 M814.5 384 L807.5 397.5 M814.5 388 L819 396 M827.5 383.5 L821.5 397.5 M827.5 387 L835 397.5"/>
<path d="M846.5 374.5 H859.5 V381 H846.5 Z M843 385.5 H863 M849 385.5 L847.5 391 H861 Q861 397.5 853.5 397.5"/>
</g>
<circle cx="880.5" cy="386" r="1.8" fill="#a8a8a8" fill-opacity="0.85"/>
<text x="898" y="396.5" font-size="29.5" fill="#b4b4b4" fill-opacity="0.85" stroke="#f8f8f8" stroke-opacity="0.5" stroke-width="0.4" textLength="147.5" lengthAdjust="spacingAndGlyphs">OpenFPGA</text>
<text x="835.25" y="385.6" text-anchor="middle" font-size="26" fill="#1a1a1a" textLength="191.5" lengthAdjust="spacingAndGlyphs">Frequency (Hz)</text>
<text transform="translate(593.5,188.9) rotate(-90)" text-anchor="middle" font-size="26" fill="#1a1a1a" textLength="189.2" lengthAdjust="spacingAndGlyphs">Magnitude (dB)</text>
<path d="M1009.2 369.3 L1015.7 375 M1015.7 369.3 L1009.2 375" stroke="#666" stroke-width="0.9" fill="none"/><text x="1017" y="375" font-size="12.5" fill="#4a4a4a">10</text><text x="1031.8" y="369.4" font-size="9" fill="#4a4a4a">7</text>
<text x="961.3" y="167.2" text-anchor="middle" font-size="43" font-weight="bold" fill="#1f3a6e" textLength="146.4" lengthAdjust="spacingAndGlyphs">51 taps</text>
<text x="777.55" y="73.7" text-anchor="middle" font-size="27.8" font-weight="bold" fill="#000" textLength="92.1" lengthAdjust="spacingAndGlyphs">Flatter</text>
<text x="809.65" y="144.3" text-anchor="middle" font-size="28" font-weight="bold" fill="#000" textLength="110.5" lengthAdjust="spacingAndGlyphs">Sharper</text>
<ellipse cx="667" cy="66.4" rx="49" ry="17" fill="none" stroke="#0b0b96" stroke-width="4.5"/>
<ellipse cx="727.9" cy="144.9" rx="23" ry="57.7" transform="rotate(-11 727.9 144.9)" fill="none" stroke="#0b0b96" stroke-width="3.9"/>
</svg>
</body></html>
